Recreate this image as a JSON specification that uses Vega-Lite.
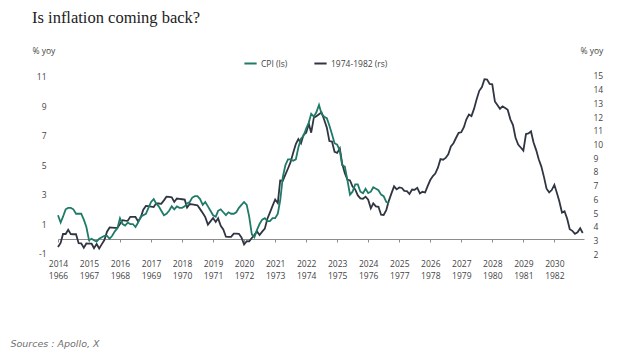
{
  "$schema": "https://vega.github.io/schema/vega-lite/v6.json",
  "width": 526,
  "height": 186,
  "autosize": "none",
  "padding": {"left": 58, "top": 72, "right": 56, "bottom": 99},
  "background": "white",
  "config": {"view": {"stroke": null}, "font": "Open Sans"},
  "title": {"text": "Is inflation coming back?", "font": "Liberation Serif", "fontSize": 16.5, "fontWeight": "normal", "color": "#222222", "anchor": "start", "frame": "group", "dx": -26, "dy": -16},
  "datasets": {
    "cpi": [
      {"d":"2014-01","v":1.6},{"d":"2014-02","v":1.1},{"d":"2014-03","v":1.5},{"d":"2014-04","v":2.0},{"d":"2014-05","v":2.1},{"d":"2014-06","v":2.1},{"d":"2014-07","v":2.0},{"d":"2014-08","v":1.7},{"d":"2014-09","v":1.7},{"d":"2014-10","v":1.7},{"d":"2014-11","v":1.3},{"d":"2014-12","v":0.8},
      {"d":"2015-01","v":-0.1},{"d":"2015-02","v":0.0},{"d":"2015-03","v":-0.1},{"d":"2015-04","v":-0.2},{"d":"2015-05","v":0.0},{"d":"2015-06","v":0.1},{"d":"2015-07","v":0.2},{"d":"2015-08","v":0.2},{"d":"2015-09","v":0.0},{"d":"2015-10","v":0.2},{"d":"2015-11","v":0.5},{"d":"2015-12","v":0.7},
      {"d":"2016-01","v":1.4},{"d":"2016-02","v":1.0},{"d":"2016-03","v":0.9},{"d":"2016-04","v":1.1},{"d":"2016-05","v":1.0},{"d":"2016-06","v":1.0},{"d":"2016-07","v":0.8},{"d":"2016-08","v":1.1},{"d":"2016-09","v":1.5},{"d":"2016-10","v":1.6},{"d":"2016-11","v":1.7},{"d":"2016-12","v":2.1},
      {"d":"2017-01","v":2.5},{"d":"2017-02","v":2.7},{"d":"2017-03","v":2.4},{"d":"2017-04","v":2.2},{"d":"2017-05","v":1.9},{"d":"2017-06","v":1.6},{"d":"2017-07","v":1.7},{"d":"2017-08","v":1.9},{"d":"2017-09","v":2.2},{"d":"2017-10","v":2.0},{"d":"2017-11","v":2.2},{"d":"2017-12","v":2.1},
      {"d":"2018-01","v":2.1},{"d":"2018-02","v":2.2},{"d":"2018-03","v":2.4},{"d":"2018-04","v":2.5},{"d":"2018-05","v":2.8},{"d":"2018-06","v":2.9},{"d":"2018-07","v":2.9},{"d":"2018-08","v":2.7},{"d":"2018-09","v":2.3},{"d":"2018-10","v":2.5},{"d":"2018-11","v":2.2},{"d":"2018-12","v":1.9},
      {"d":"2019-01","v":1.6},{"d":"2019-02","v":1.5},{"d":"2019-03","v":1.9},{"d":"2019-04","v":2.0},{"d":"2019-05","v":1.8},{"d":"2019-06","v":1.6},{"d":"2019-07","v":1.8},{"d":"2019-08","v":1.7},{"d":"2019-09","v":1.7},{"d":"2019-10","v":1.8},{"d":"2019-11","v":2.1},{"d":"2019-12","v":2.3},
      {"d":"2020-01","v":2.5},{"d":"2020-02","v":2.3},{"d":"2020-03","v":1.5},{"d":"2020-04","v":0.3},{"d":"2020-05","v":0.1},{"d":"2020-06","v":0.6},{"d":"2020-07","v":1.0},{"d":"2020-08","v":1.3},{"d":"2020-09","v":1.4},{"d":"2020-10","v":1.2},{"d":"2020-11","v":1.2},{"d":"2020-12","v":1.4},
      {"d":"2021-01","v":1.4},{"d":"2021-02","v":1.7},{"d":"2021-03","v":2.6},{"d":"2021-04","v":4.2},{"d":"2021-05","v":5.0},{"d":"2021-06","v":5.4},{"d":"2021-07","v":5.4},{"d":"2021-08","v":5.3},{"d":"2021-09","v":5.4},{"d":"2021-10","v":6.2},{"d":"2021-11","v":6.8},{"d":"2021-12","v":7.0},
      {"d":"2022-01","v":7.5},{"d":"2022-02","v":7.9},{"d":"2022-03","v":8.5},{"d":"2022-04","v":8.3},{"d":"2022-05","v":8.6},{"d":"2022-06","v":9.1},{"d":"2022-07","v":8.5},{"d":"2022-08","v":8.3},{"d":"2022-09","v":8.2},{"d":"2022-10","v":7.7},{"d":"2022-11","v":7.1},{"d":"2022-12","v":6.5},
      {"d":"2023-01","v":6.4},{"d":"2023-02","v":6.0},{"d":"2023-03","v":5.0},{"d":"2023-04","v":4.9},{"d":"2023-05","v":4.0},{"d":"2023-06","v":3.0},{"d":"2023-07","v":3.2},{"d":"2023-08","v":3.7},{"d":"2023-09","v":3.7},{"d":"2023-10","v":3.2},{"d":"2023-11","v":3.1},{"d":"2023-12","v":3.4},
      {"d":"2024-01","v":3.1},{"d":"2024-02","v":3.2},{"d":"2024-03","v":3.5},{"d":"2024-04","v":3.4},{"d":"2024-05","v":3.3},{"d":"2024-06","v":3.0},{"d":"2024-07","v":2.9},{"d":"2024-08","v":2.5},{"d":"2024-09","v":2.4}
    ],
    "hist": [
      {"d":"2014-01","v":2.53},{"d":"2014-02","v":2.83},{"d":"2014-03","v":3.48},{"d":"2014-04","v":3.48},{"d":"2014-05","v":3.79},{"d":"2014-06","v":3.47},{"d":"2014-07","v":3.46},{"d":"2014-08","v":3.46},{"d":"2014-09","v":2.81},{"d":"2014-10","v":2.80},{"d":"2014-11","v":2.48},{"d":"2014-12","v":2.79},
      {"d":"2015-01","v":2.78},{"d":"2015-02","v":2.77},{"d":"2015-03","v":2.45},{"d":"2015-04","v":2.75},{"d":"2015-05","v":2.43},{"d":"2015-06","v":2.74},{"d":"2015-07","v":3.04},{"d":"2015-08","v":3.65},{"d":"2015-09","v":3.95},{"d":"2015-10","v":3.94},{"d":"2015-11","v":3.93},{"d":"2015-12","v":3.92},
      {"d":"2016-01","v":4.20},{"d":"2016-02","v":4.49},{"d":"2016-03","v":4.46},{"d":"2016-04","v":4.44},{"d":"2016-05","v":4.73},{"d":"2016-06","v":4.72},{"d":"2016-07","v":4.72},{"d":"2016-08","v":4.40},{"d":"2016-09","v":4.68},{"d":"2016-10","v":5.25},{"d":"2016-11","v":5.52},{"d":"2016-12","v":5.51},
      {"d":"2017-01","v":5.48},{"d":"2017-02","v":5.44},{"d":"2017-03","v":5.71},{"d":"2017-04","v":5.70},{"d":"2017-05","v":5.68},{"d":"2017-06","v":5.93},{"d":"2017-07","v":6.20},{"d":"2017-08","v":6.18},{"d":"2017-09","v":6.15},{"d":"2017-10","v":5.82},{"d":"2017-11","v":6.06},{"d":"2017-12","v":6.04},
      {"d":"2018-01","v":6.01},{"d":"2018-02","v":5.98},{"d":"2018-03","v":5.41},{"d":"2018-04","v":5.66},{"d":"2018-05","v":5.63},{"d":"2018-06","v":5.60},{"d":"2018-07","v":5.57},{"d":"2018-08","v":5.29},{"d":"2018-09","v":5.00},{"d":"2018-10","v":4.71},{"d":"2018-11","v":4.16},{"d":"2018-12","v":4.40},
      {"d":"2019-01","v":4.64},{"d":"2019-02","v":4.36},{"d":"2019-03","v":4.62},{"d":"2019-04","v":4.08},{"d":"2019-05","v":3.81},{"d":"2019-06","v":3.28},{"d":"2019-07","v":3.27},{"d":"2019-08","v":3.27},{"d":"2019-09","v":3.51},{"d":"2019-10","v":3.50},{"d":"2019-11","v":3.49},{"d":"2019-12","v":3.23},
      {"d":"2020-01","v":2.71},{"d":"2020-02","v":2.95},{"d":"2020-03","v":2.94},{"d":"2020-04","v":3.19},{"d":"2020-05","v":3.42},{"d":"2020-06","v":3.67},{"d":"2020-07","v":3.41},{"d":"2020-08","v":3.65},{"d":"2020-09","v":3.87},{"d":"2020-10","v":4.59},{"d":"2020-11","v":5.06},{"d":"2020-12","v":5.53},
      {"d":"2021-01","v":5.99},{"d":"2021-02","v":5.73},{"d":"2021-03","v":7.38},{"d":"2021-04","v":7.36},{"d":"2021-05","v":7.80},{"d":"2021-06","v":8.25},{"d":"2021-07","v":8.71},{"d":"2021-08","v":9.39},{"d":"2021-09","v":10.02},{"d":"2021-10","v":10.39},{"d":"2021-11","v":10.09},{"d":"2021-12","v":10.71},
      {"d":"2022-01","v":10.86},{"d":"2022-02","v":11.51},{"d":"2022-03","v":10.86},{"d":"2022-04","v":11.95},{"d":"2022-05","v":12.06},{"d":"2022-06","v":12.20},{"d":"2022-07","v":12.34},{"d":"2022-08","v":11.80},{"d":"2022-09","v":11.23},{"d":"2022-10","v":10.25},{"d":"2022-11","v":10.21},{"d":"2022-12","v":9.47},
      {"d":"2023-01","v":9.39},{"d":"2023-02","v":9.72},{"d":"2023-03","v":8.60},{"d":"2023-04","v":7.91},{"d":"2023-05","v":7.44},{"d":"2023-06","v":7.38},{"d":"2023-07","v":6.94},{"d":"2023-08","v":6.72},{"d":"2023-09","v":6.29},{"d":"2023-10","v":6.07},{"d":"2023-11","v":6.05},{"d":"2023-12","v":6.20},
      {"d":"2024-01","v":5.97},{"d":"2024-02","v":5.35},{"d":"2024-03","v":5.71},{"d":"2024-04","v":5.49},{"d":"2024-05","v":5.46},{"d":"2024-06","v":4.88},{"d":"2024-07","v":4.86},{"d":"2024-08","v":5.22},{"d":"2024-09","v":5.91},{"d":"2024-10","v":6.44},{"d":"2024-11","v":6.95},{"d":"2024-12","v":6.73},
      {"d":"2025-01","v":6.87},{"d":"2025-02","v":6.83},{"d":"2025-03","v":6.62},{"d":"2025-04","v":6.60},{"d":"2025-05","v":6.39},{"d":"2025-06","v":6.72},{"d":"2025-07","v":6.70},{"d":"2025-08","v":6.84},{"d":"2025-09","v":6.43},{"d":"2025-10","v":6.55},{"d":"2025-11","v":6.50},{"d":"2025-12","v":6.97},
      {"d":"2026-01","v":7.41},{"d":"2026-02","v":7.70},{"d":"2026-03","v":7.88},{"d":"2026-04","v":8.31},{"d":"2026-05","v":8.93},{"d":"2026-06","v":8.89},{"d":"2026-07","v":9.02},{"d":"2026-08","v":9.28},{"d":"2026-09","v":9.86},{"d":"2026-10","v":10.09},{"d":"2026-11","v":10.49},{"d":"2026-12","v":10.85},
      {"d":"2027-01","v":10.89},{"d":"2027-02","v":11.26},{"d":"2027-03","v":11.82},{"d":"2027-04","v":12.18},{"d":"2027-05","v":12.07},{"d":"2027-06","v":12.61},{"d":"2027-07","v":13.29},{"d":"2027-08","v":13.91},{"d":"2027-09","v":14.18},{"d":"2027-10","v":14.76},{"d":"2027-11","v":14.73},{"d":"2027-12","v":14.41},
      {"d":"2028-01","v":14.38},{"d":"2028-02","v":13.13},{"d":"2028-03","v":12.87},{"d":"2028-04","v":12.60},{"d":"2028-05","v":12.77},{"d":"2028-06","v":12.65},{"d":"2028-07","v":12.52},{"d":"2028-08","v":11.83},{"d":"2028-09","v":11.41},{"d":"2028-10","v":10.49},{"d":"2028-11","v":10.00},{"d":"2028-12","v":9.78},
      {"d":"2029-01","v":9.55},{"d":"2029-02","v":10.76},{"d":"2029-03","v":10.80},{"d":"2029-04","v":10.95},{"d":"2029-05","v":10.14},{"d":"2029-06","v":9.59},{"d":"2029-07","v":8.92},{"d":"2029-08","v":8.39},{"d":"2029-09","v":7.62},{"d":"2029-10","v":6.78},{"d":"2029-11","v":6.51},{"d":"2029-12","v":6.68},
      {"d":"2030-01","v":7.06},{"d":"2030-02","v":6.44},{"d":"2030-03","v":5.85},{"d":"2030-04","v":5.04},{"d":"2030-05","v":5.14},{"d":"2030-06","v":4.59},{"d":"2030-07","v":3.83},{"d":"2030-08","v":3.71},{"d":"2030-09","v":3.49},{"d":"2030-10","v":3.60},{"d":"2030-11","v":3.90},{"d":"2030-12","v":3.55}
    ]
  },
  "layer": [
    {
      "data": {"name": "hist"},
      "mark": {"type": "line", "strokeWidth": 1.8},
      "encoding": {
        "x": {"field": "d", "type": "temporal", "scale": {"type": "utc", "domain": [{"year": 2014, "month": 1, "date": 1, "utc": true}, {"year": 2030, "month": 12, "date": 16, "utc": true}]},
          "axis": {"offset": -19, "domainColor": "#8c8c8c", "tickColor": "#8c8c8c", "tickSize": 3, "labelPadding": 17, "labelFontSize": 8.5, "labelColor": "#444444", "labelLineHeight": 12.5, "labelBaseline": "top", "labelExpr": "[utcFormat(datum.value, '%Y'), '' + (utcyear(datum.value) - 48)]", "tickCount": {"interval": "year", "step": 1}, "grid": false, "labelFlush": false, "labelOverlap": false,
            "title": "Sources : Apollo, X", "titleFont": "DejaVu Sans", "titleFontStyle": "italic", "titleFontWeight": "normal", "titleFontSize": 9.5, "titleColor": "#6f6f6f", "titleX": -48, "titleY": 104, "titleAlign": "left", "titleBaseline": "middle", "titleAnchor": "start"}},
        "y": {"field": "v", "type": "quantitative", "scale": {"domain": [1.73, 15.28], "nice": false, "zero": false},
          "axis": {"orient": "right", "values": [2,3,4,5,6,7,8,9,10,11,12,13,14,15], "domain": false, "ticks": false, "grid": false, "labelPadding": 9, "labelFontSize": 8.5, "labelColor": "#444444", "title": "% yoy", "titleAngle": 0, "titleAlign": "left", "titleBaseline": "middle", "titleX": -4, "titleY": -22, "titleFontSize": 8.5, "titleFontWeight": "normal", "titleColor": "#444444"}},
        "color": {"datum": "1974-1982 (rs)", "type": "nominal"}
      }
    },
    {
      "data": {"name": "cpi"},
      "mark": {"type": "line", "strokeWidth": 1.8},
      "encoding": {
        "x": {"field": "d", "type": "temporal"},
        "y": {"field": "v", "type": "quantitative", "scale": {"domain": [-1.31, 11.34], "nice": false, "zero": false},
          "axis": {"orient": "left", "values": [-1,1,3,5,7,9,11], "labelExpr": "'' + datum.value", "domain": false, "ticks": false, "grid": false, "labelPadding": 12, "labelFontSize": 8.5, "labelColor": "#444444", "title": "% yoy", "titleAngle": 0, "titleAlign": "left", "titleBaseline": "middle", "titleX": -26, "titleY": -22, "titleFontSize": 8.5, "titleFontWeight": "normal", "titleColor": "#444444"}},
        "color": {"datum": "CPI (ls)", "type": "nominal",
          "scale": {"domain": ["CPI (ls)", "1974-1982 (rs)"], "range": ["#1f7a67", "#2f3542"]},
          "legend": {"orient": "none", "legendX": 185, "legendY": -16, "direction": "horizontal", "title": null, "symbolType": "stroke", "symbolStrokeWidth": 2, "symbolSize": 150, "labelFontSize": 8.5, "labelColor": "#444444", "columnPadding": 22, "labelOffset": 3}}
      }
    }
  ],
  "resolve": {"scale": {"y": "independent"}}
}
